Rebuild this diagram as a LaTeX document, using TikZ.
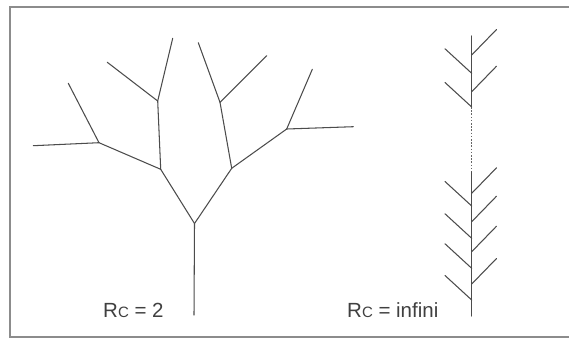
\documentclass[tikz,border=0pt]{standalone}
\usepackage{fontspec}
\setmainfont{Liberation Sans}
\begin{document}
\begin{tikzpicture}[x=1pt,y=-1pt,
  br/.style={draw=black!70, line width=1.05pt, line cap=round},
  frame/.style={draw=black!45, line width=2pt},
  lbl/.style={anchor=base west, inner sep=0pt, text=black!75, font=\fontsize{20.5}{20.5}\selectfont}]
\useasboundingbox (0,0) rectangle (569,338);
\fill[white] (0,0) rectangle (569,338);
% frame (open on the right)
\draw[frame] (572,7) -- (10,7) -- (10,336.5) -- (572,336.5);
% tree Rc = 2
\coordinate (T0) at (194,315);
\coordinate (T1) at (194.5,223.5);
\coordinate (B) at (160.7,169.3);
\coordinate (A) at (99,142.7);
\coordinate (A1) at (33.3,145.7);
\coordinate (A2) at (68.3,83.3);
\coordinate (C) at (157.7,101);
\coordinate (C1) at (107.3,62.3);
\coordinate (C2) at (172.7,38.3);
\coordinate (D) at (231.7,168.3);
\coordinate (E) at (220,102.3);
\coordinate (E1) at (198.3,42.7);
\coordinate (E2) at (266.7,55.7);
\coordinate (F) at (286.7,129);
\coordinate (F1) at (312.3,69.3);
\coordinate (F2) at (353.3,126.7);
\draw[br] (T0) -- (T1);
\draw[br] (T1) -- (B);
\draw[br] (T1) -- (D);
\draw[br] (B) -- (A);
\draw[br] (A) -- (A1);
\draw[br] (A) -- (A2);
\draw[br] (B) -- (C);
\draw[br] (C) -- (C1);
\draw[br] (C) -- (C2);
\draw[br] (D) -- (E);
\draw[br] (E) -- (E1);
\draw[br] (E) -- (E2);
\draw[br] (D) -- (F);
\draw[br] (F) -- (F1);
\draw[br] (F) -- (F2);
% herringbone Rc = infini
\coordinate (S0) at (471.7,36);
\coordinate (S1) at (471.7,107);
\coordinate (S2) at (471.7,172);
\coordinate (S3) at (471.7,316);
\draw[br] (S0) -- (S1);
\draw[draw=black!60, line width=1pt, dash pattern=on 1.6pt off 1.6pt] (S1) -- (S2);
\draw[br] (S2) -- (S3);
\foreach \yr/\yl [count=\i] in {55/73.3, 91.7/107, 193.3/206, 221.7/238.3, 251.7/268.3, 284/300}{
  \coordinate (r\i a) at (471.7,\yr);
  \coordinate (r\i b) at (496.5,\yr-25.5);
  \coordinate (l\i a) at (445,\yl-24.5);
  \coordinate (l\i b) at (471.7,\yl);
  \draw[br] (r\i a) -- (r\i b);
  \draw[br] (l\i a) -- (l\i b);
}
% labels
\node[lbl] (lab1) at (103,317) {R{\fontsize{15}{15}\selectfont C} = 2};
\node[lbl] (lab2) at (347,317) {R{\fontsize{15}{15}\selectfont C} = infini};
\end{tikzpicture}
\end{document}
